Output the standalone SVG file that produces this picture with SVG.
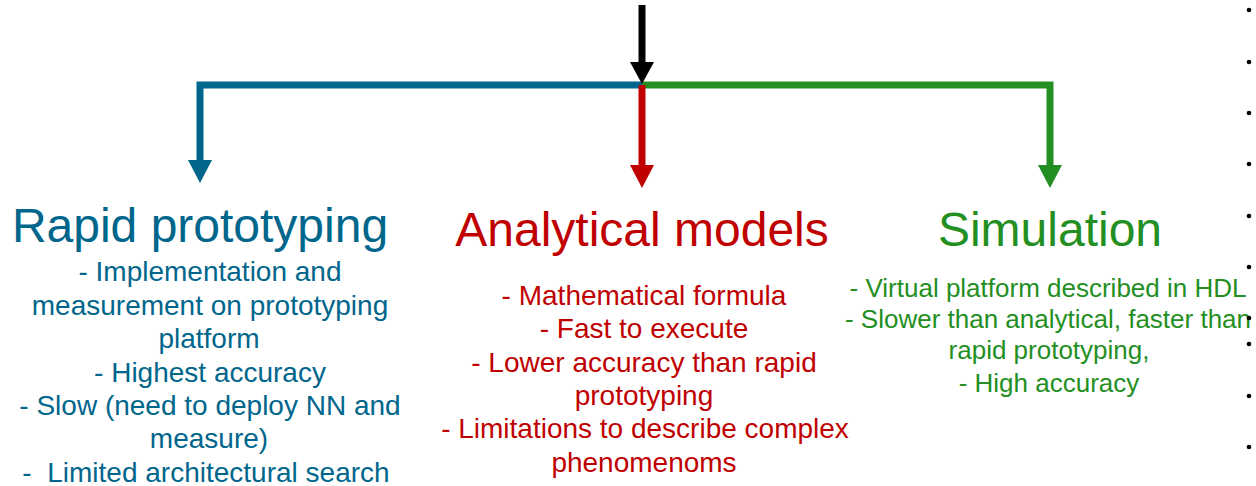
<svg xmlns="http://www.w3.org/2000/svg" width="1256" height="486" viewBox="0 0 1256 486">
<style>
text{font-family:"Liberation Sans",Arial,sans-serif;text-anchor:middle}
.t{font-size:48px}
.b{font-size:28px}
.s{font-size:26px}
.blue{fill:#00668C}
.red{fill:#C00000}
.green{fill:#238F23}
.ln{fill:none;stroke-width:7}
</style>
<rect width="1256" height="486" fill="#fff"/>
<g id="connectors">
<path class="ln" d="M642,85 H200 V162" stroke="#00668C"/>
<polygon points="188,160 212,160 200,183" fill="#00668C"/>
<path class="ln" d="M642,85 H1050 V167" stroke="#238F23"/>
<polygon points="1038,165 1062,165 1050,188" fill="#238F23"/>
<path class="ln" d="M642,85 V167" stroke="#C00000"/>
<polygon points="630,165 654,165 642,188" fill="#C00000"/>
<path class="ln" d="M642,5 V64" stroke="#000"/>
<polygon points="630,62 654,62 642,84" fill="#000"/>
</g>
<g id="rapid">
<text class="t blue" x="200" y="242">Rapid prototyping</text>
<text class="b blue" x="210" y="281">- Implementation and</text>
<text class="b blue" x="210" y="315">measurement on prototyping</text>
<text class="b blue" x="209" y="348">platform</text>
<text class="b blue" x="210" y="382">- Highest accuracy</text>
<text class="b blue" x="210" y="415">- Slow (need to deploy NN and</text>
<text class="b blue" x="209" y="448">measure)</text>
<text class="b blue" x="206" y="482" xml:space="preserve">-  Limited architectural search</text>
</g>
<g id="analytical">
<text class="t red" x="642" y="246">Analytical models</text>
<text class="b red" x="644" y="305">- Mathematical formula</text>
<text class="b red" x="644" y="338">- Fast to execute</text>
<text class="b red" x="644" y="372">- Lower accuracy than rapid</text>
<text class="b red" x="644" y="405">prototyping</text>
<text class="b red" x="645" y="438">- Limitations to describe complex</text>
<text class="b red" x="644" y="472">phenomenoms</text>
</g>
<g id="simulation">
<text class="t green" x="1050" y="246">Simulation</text>
<text class="s green" x="1048" y="297">- Virtual platform described in HDL</text>
<text class="s green" x="1048" y="328">- Slower than analytical, faster than</text>
<text class="s green" x="1049" y="359">rapid prototyping,</text>
<text class="s green" x="1049" y="392">- High accuracy</text>
</g>
<g id="dots" fill="#000">
<circle cx="1249" cy="10" r="2.3"/>
<circle cx="1249" cy="62" r="2.3"/>
<circle cx="1249" cy="113" r="2.3"/>
<circle cx="1249" cy="164" r="2.3"/>
<circle cx="1249" cy="216" r="2.3"/>
<circle cx="1249" cy="267" r="2.3"/>
<circle cx="1249" cy="318" r="2.3"/>
<circle cx="1249" cy="344" r="2.3"/>
<circle cx="1249" cy="396" r="2.3"/>
<circle cx="1249" cy="447" r="2.3"/>
</g>
</svg>
